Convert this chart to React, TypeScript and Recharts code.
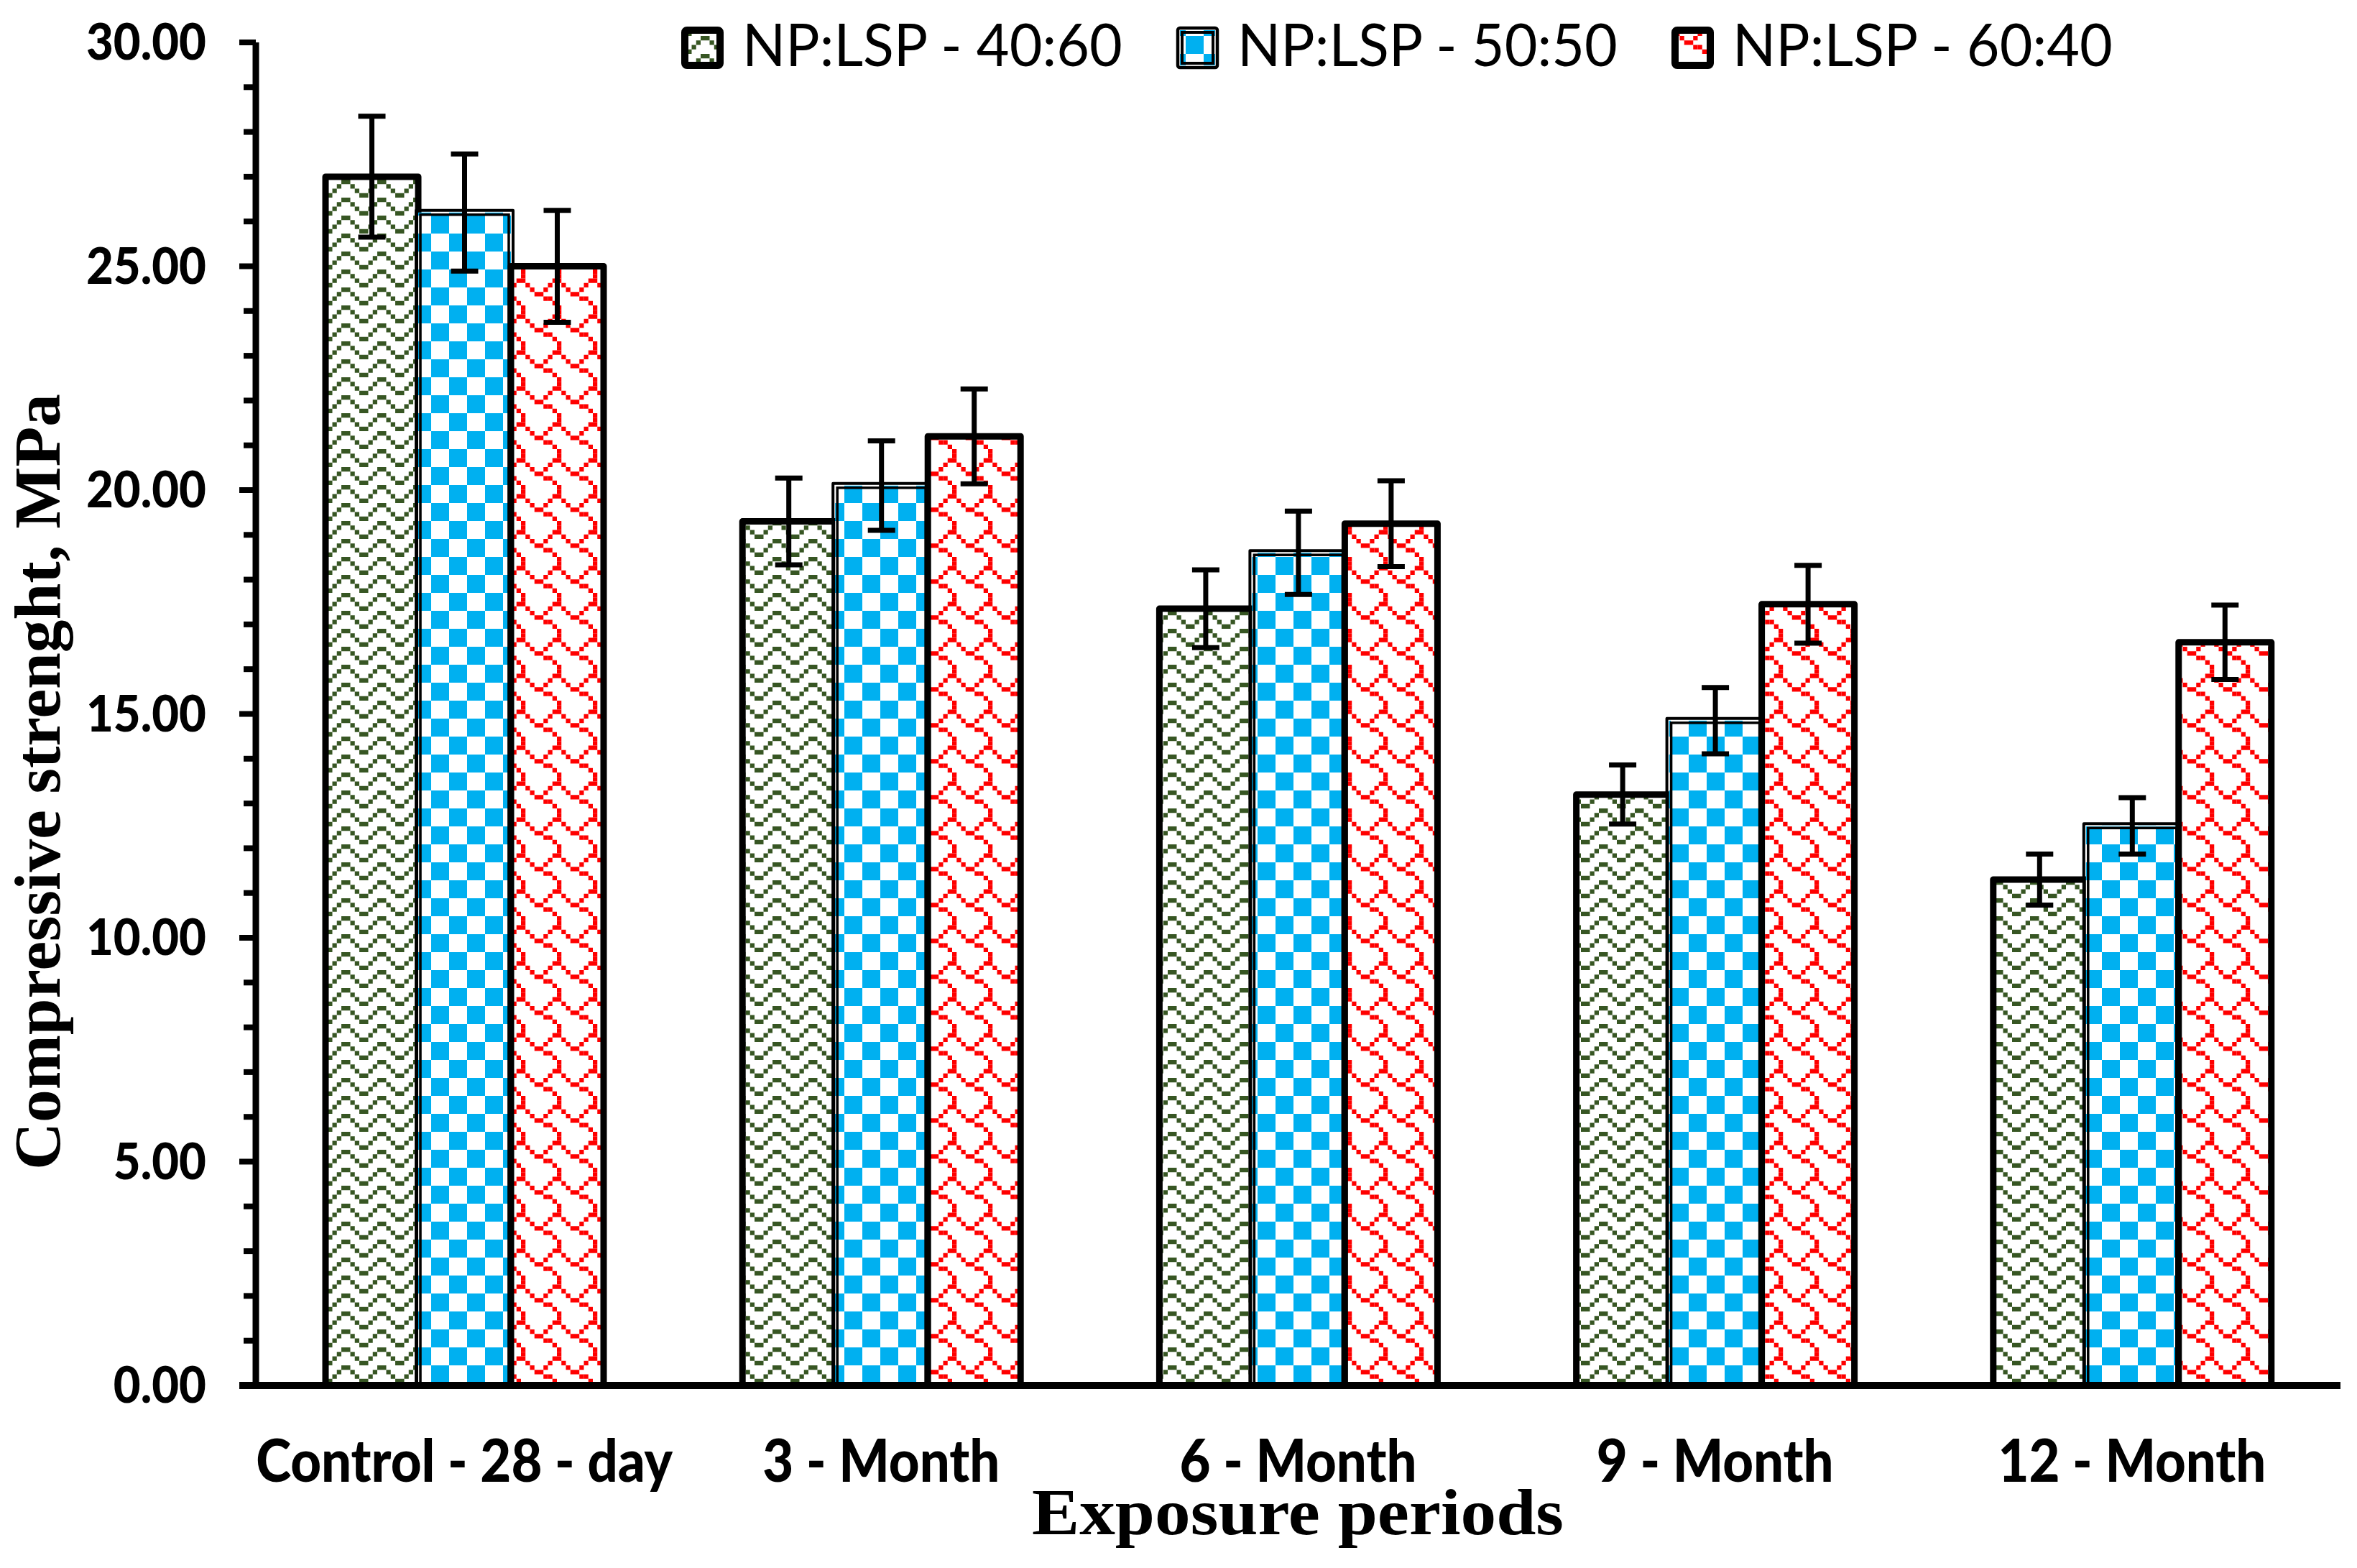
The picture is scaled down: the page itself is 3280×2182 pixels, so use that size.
import React from 'react';
import { BarChart, Bar, XAxis, YAxis, ErrorBar, Customized } from 'recharts';

// ---------- data ----------
const CATEGORIES = ['Control - 28 - day', '3 - Month', '6 - Month', '9 - Month', '12 - Month'];
const SERIES_NAMES = ['NP:LSP - 40:60', 'NP:LSP - 50:50', 'NP:LSP - 60:40'];
const NP40_LSP60 = [27.0, 19.3, 17.35, 13.2, 11.3];
const NP50_LSP50 = [26.2, 20.1, 18.6, 14.85, 12.5];
const NP60_LSP40 = [25.0, 21.2, 19.25, 17.45, 16.6];
const ERR_40_60 = [1.35, 0.97, 0.87, 0.66, 0.57];
const ERR_50_50 = [1.31, 1.0, 0.93, 0.74, 0.63];
const ERR_60_40 = [1.25, 1.06, 0.96, 0.87, 0.83];
const Y_TICKS = [0, 1, 2, 3, 4, 5, 6, 7, 8, 9, 10, 11, 12, 13, 14, 15, 16, 17, 18, 19, 20, 21, 22, 23, 24, 25, 26, 27, 28, 29, 30];
const Y_LABEL_TICKS = [0, 5, 10, 15, 20, 25, 30];
const Y_TITLE = 'Compressive strenght, MPa';
const X_TITLE = 'Exposure periods';

const data = CATEGORIES.map((name, i) => ({
  name,
  s1: NP40_LSP60[i],
  e1: ERR_40_60[i],
  s2: NP50_LSP50[i],
  e2: ERR_50_50[i],
  s3: NP60_LSP40[i],
  e3: ERR_60_40[i],
}));

const GREEN = '#375623';
const BLUE = '#00B0F0';
const RED = '#FF0000';
const SANS = "Lato, 'Open Sans', sans-serif";
const SERIF = "'Liberation Serif', 'Times New Roman', serif";
const U = 6.25;

const PatternDefs = () => (
  <defs>
    <pattern id="pZig" patternUnits="userSpaceOnUse" x={0} y={0} width={8 * U} height={4 * U}>
      <rect x={0} y={0} width={8 * U} height={4 * U} fill="#fff" />
      <rect x={4 * U} y={0} width={2 * U} height={U} fill={GREEN} />
      <rect x={3 * U} y={U} width={U} height={U} fill={GREEN} />
      <rect x={6 * U} y={U} width={U} height={U} fill={GREEN} />
      <rect x={2 * U} y={2 * U} width={U} height={U} fill={GREEN} />
      <rect x={7 * U} y={2 * U} width={U} height={U} fill={GREEN} />
      <rect x={0} y={3 * U} width={2 * U} height={U} fill={GREEN} />
    </pattern>
    <pattern id="pCheck" patternUnits="userSpaceOnUse" x={0} y={0} width={8 * U} height={8 * U}>
      <rect x={0} y={0} width={8 * U} height={8 * U} fill="#fff" />
      <rect x={0} y={0} width={4 * U} height={4 * U} fill={BLUE} />
      <rect x={4 * U} y={4 * U} width={4 * U} height={4 * U} fill={BLUE} />
    </pattern>
    <pattern id="pScale" patternUnits="userSpaceOnUse" x={0} y={0} width={8 * U} height={8 * U}>
      <rect x={0} y={0} width={8 * U} height={8 * U} fill="#fff" />
      {[
        [0, 1], [0, 6],
        [1, 0], [1, 7],
        [2, 1], [2, 2],
        [3, 3],
        [4, 4],
        [5, 4],
        [6, 3], [6, 4],
        [7, 2], [7, 5],
      ].map(([r, c], i) => (
        <rect key={i} x={c * U} y={r * U} width={U} height={U} fill={RED} />
      ))}
    </pattern>
  </defs>
);

const SingleBar = (fillId: string) => (props: any) => {
  const { x, y, width, height } = props;
  if (width == null || height == null) return null;
  return (
    <rect
      x={x}
      y={y}
      width={width}
      height={height}
      fill={`url(#${fillId})`}
      stroke="#000"
      strokeWidth={9}
      strokeLinejoin="round"
    />
  );
};

const DoubleBar = (fillId: string) => (props: any) => {
  const { x, y, width, height } = props;
  if (width == null || height == null) return null;
  return (
    <g>
      <rect x={x} y={y} width={width} height={height} fill={`url(#${fillId})`} />
      <rect x={x - 3} y={y - 3} width={width + 6} height={height + 6} fill="none" stroke="#000" strokeWidth={4} strokeLinejoin="round" />
      <rect x={x + 3} y={y + 3} width={width - 6} height={height - 6} fill="none" stroke="#000" strokeWidth={3.5} />
    </g>
  );
};

const YTick = (props: any) => {
  const { x, y, payload } = props;
  const v = payload.value as number;
  const major = Y_LABEL_TICKS.includes(v);
  return (
    <g>
      <line x1={x - (major ? 23 : 17)} x2={x} y1={y} y2={y} stroke="#000" strokeWidth={v === 0 ? 10 : 8} />
      {major && (
        <text
          transform={`translate(${x - 69},${y + 24}) scale(0.92,1)`}
          textAnchor="end"
          fontFamily={SANS}
          fontWeight={900}
          fontSize={71}
          fill="#000"
        >
          {v.toFixed(2)}
        </text>
      )}
    </g>
  );
};

const XTick = (props: any) => {
  const { x, y, payload } = props;
  return (
    <text
      transform={`translate(${x},${y + 134}) scale(0.905,1)`}
      textAnchor="middle"
      fontFamily={SANS}
      fontWeight={900}
      fontSize={82}
      fill="#000"
    >
      {payload.value}
    </text>
  );
};

const FILLS = ['pZig', 'pCheck', 'pScale'];

const Overlay = () => (
  <g>
    <PatternDefs />
    {/* legend */}
    {SERIES_NAMES.map((name, i) => {
      const left = 948 + 689 * i;
      return (
        <g key={name}>
          {i === 1 ? (
            <g>
              <rect x={left + 5} y={42} width={49} height={49} fill={`url(#${FILLS[i]})`} />
              <rect x={left + 2} y={39} width={55} height={55} fill="none" stroke="#000" strokeWidth={4.5} rx={3} />
              <rect x={left + 8} y={45} width={43} height={43} fill="none" stroke="#000" strokeWidth={4} />
            </g>
          ) : (
            <rect x={left + 5} y={42} width={49} height={49} fill={`url(#${FILLS[i]})`} stroke="#000" strokeWidth={10} rx={3} strokeLinejoin="round" />
          )}
          <text
            transform={`translate(${left + 85},92) scale(0.975,1)`}
            fontFamily={SANS}
            fontSize={81}
            fill="#000"
          >
            {name}
          </text>
        </g>
      );
    })}
    {/* axis titles */}
    <text
      x={0}
      y={0}
      transform="translate(83,1088) rotate(-90)"
      textAnchor="middle"
      fontFamily={SERIF}
      fontWeight={700}
      fontSize={91}
      textLength={1080}
      lengthAdjust="spacingAndGlyphs"
      fill="#000"
    >
      {Y_TITLE}
    </text>
    <text
      x={1806}
      y={2135}
      textAnchor="middle"
      fontFamily={SERIF}
      fontWeight={700}
      fontSize={90}
      textLength={740}
      lengthAdjust="spacingAndGlyphs"
      fill="#000"
    >
      {X_TITLE}
    </text>
  </g>
);

export default function App() {
  return (
    <div style={{ width: 3280, height: 2182, background: '#fff' }}>
      <style>{'body{margin:0;background:#fff}'}</style>
      <BarChart
        width={3280}
        height={2182}
        data={data}
        margin={{ top: 59, right: 23, bottom: 154, left: 0 }}
        barGap={0}
        barSize={129}
      >
        <Customized component={<Overlay />} />
        <Bar dataKey="s1" name={SERIES_NAMES[0]} shape={SingleBar('pZig')} isAnimationActive={false}>
          <ErrorBar dataKey="e1" width={19} stroke="#000" strokeWidth={7} direction="y" />
        </Bar>
        <Bar dataKey="s2" name={SERIES_NAMES[1]} shape={DoubleBar('pCheck')} isAnimationActive={false}>
          <ErrorBar dataKey="e2" width={19} stroke="#000" strokeWidth={7} direction="y" />
        </Bar>
        <Bar dataKey="s3" name={SERIES_NAMES[2]} shape={SingleBar('pScale')} isAnimationActive={false}>
          <ErrorBar dataKey="e3" width={19} stroke="#000" strokeWidth={7} direction="y" />
        </Bar>
        <XAxis
          dataKey="name"
          height={100}
          axisLine={{ stroke: '#000', strokeWidth: 10 }}
          tickLine={false}
          tickSize={0}
          tickMargin={0}
          tick={<XTick />}
          interval={0}
        />
        <YAxis
          width={356}
          domain={[0, 30]}
          ticks={Y_TICKS}
          interval={0}
          axisLine={{ stroke: '#000', strokeWidth: 9 }}
          tickLine={false}
          tickSize={0}
          tickMargin={0}
          tick={<YTick />}
        />
      </BarChart>
    </div>
  );
}
